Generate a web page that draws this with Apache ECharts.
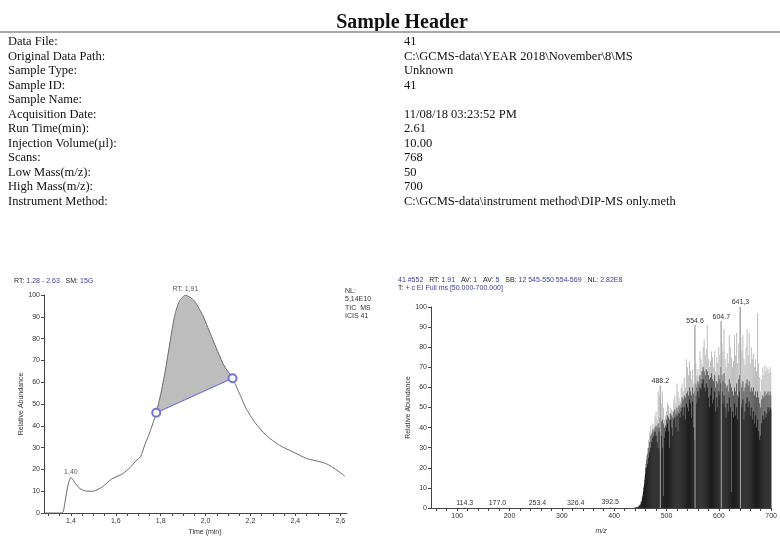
<!DOCTYPE html>
<html>
<head>
<meta charset="utf-8">
<script src="https://cdn.jsdelivr.net/npm/echarts@6/dist/echarts.min.js"></script>
<style>
html,body{margin:0;padding:0;background:#fff;}
#c{width:780px;height:536px;}
</style>
</head>
<body>
<div id="c"></div>
<script>
// ---------- header data ----------
var headerTitle = 'Sample Header';
var headerLabels = ['Data File:', 'Original Data Path:', 'Sample Type:', 'Sample ID:', 'Sample Name:', 'Acquisition Date:', 'Run Time(min):', 'Injection Volume(\u00b5l):', 'Scans:', 'Low Mass(m/z):', 'High Mass(m/z):', 'Instrument Method:'];
var headerValues = ['41', 'C:\\GCMS-data\\YEAR 2018\\November\\8\\MS', 'Unknown', '41', '', '11/08/18 03:23:52 PM', '2.61', '10.00', '768', '50', '700', 'C:\\GCMS-data\\instrument method\\DIP-MS only.meth'];

// ---------- chromatogram (TIC) ----------
var chromTime  = [1.28,1.30,1.33,1.355,1.365,1.37,1.38,1.39,1.40,1.42,1.44,1.47,1.50,1.54,1.58,1.63,1.665,1.69,1.71,1.73,1.755,1.78,1.80,1.82,1.84,1.86,1.88,1.91,1.95,1.99,2.03,2.08,2.12,2.15,2.18,2.22,2.27,2.33,2.39,2.45,2.51,2.54,2.58,2.62];
var chromAbund = [0,0,0,0,0.5,2.7,9,14,16.3,13.5,11.2,10,10,12,15.5,18,21,24,25.8,31.5,38,46,54.5,65,77.5,89.5,96.5,100,97.3,90,80,68,61.8,55,48,41.5,35.6,31,28,25,23.5,22.5,20,17];
var baselineTime  = [1.78, 2.12];
var baselineAbund = [46, 61.8];
var chromPeakTime  = [1.40, 1.91];
var chromPeakAbund = [16.3, 100];
var chromPeakText  = ['1,40', 'RT: 1,91'];
var chromXLabels = [1.4,1.6,1.8,2.0,2.2,2.4,2.6];
var chromXTicks  = [1.30,1.35,1.40,1.45,1.50,1.55,1.60,1.65,1.70,1.75,1.80,1.85,1.90,1.95,2.00,2.05,2.10,2.15,2.20,2.25,2.30,2.35,2.40,2.45,2.50,2.55,2.60];

// ---------- mass spectrum ----------
var msMz = [440,442,444,446,448,450,452,454,456,458,460,462,464,466,468,470,472,474,476,478,480,482,484,486,488,490,492,494,496,498,500,502,504,506,508,510,512,514,516,518,520,522,524,526,528,530,532,534,536,538,540,542,544,546,548,550,552,554,556,558,560,562,564,566,568,570,572,574,576,578,580,582,584,586,588,590,592,594,596,598,600,602,604,606,608,610,612,614,616,618,620,622,624,626,628,630,632,634,636,638,640,642,644,646,648,650,652,654,656,658,660,662,664,666,668,670,672,674,676,678,680,682,684,686,688,690,692,694,696,698,700];
var msLight = [0.3,0.4,0.6,1,1.5,2.5,4,7,11,16,22,26,30,34,38,41,38,42,40,46,48,44,58,56,61,52,58,50,44,46,48,52,51,47,50,49,48,54,56,52,62,58,55,53,60,62,58,65,60,74,70,66,73,68,64,69,62,91,72,66,69,65,78,74,71,80,84,76,79,91,74,70,73,78,75,70,78,68,75,72,80,76,93,82,78,89,74,70,77,72,86,80,75,70,73,86,76,87,72,82,100,85,78,86,74,71,80,89,76,87,72,80,74,77,70,74,68,97,72,65,58,64,70,66,71,68,70,69,67,70,68];
var msMid = [0.2,0.3,0.4,0.8,1.2,2,3.5,6,10,14,20,24,27,30,33,36,37,39,38,40,41,40,42,40,45,43,44,42,40,41,44,46,45,44,47,46,45,48,49,47,50,48,51,50,52,55,54,56,55,57,58,56,60,58,56,60,57,58,62,60,63,62,66,64,68,70,68,66,69,68,66,64,65,67,64,63,66,60,63,62,66,64,70,66,63,67,62,60,61,58,64,62,60,58,56,60,58,62,56,64,66,62,60,63,58,60,62,64,61,63,58,60,58,60,56,58,55,58,55,52,50,54,56,55,58,56,57,58,56,58,56];
var msDark = [0.1,0.2,0.3,0.5,1,1.5,3,5,8,12,17,20,22,25,28,30,33,35,36,38,36,33,30,38,28,36,30,6,35,38,40,42,38,30,44,40,36,44,45,40,46,38,47,45,48,50,46,50,44,52,50,48,54,52,45,53,40,34,56,52,58,55,60,59,62,64,60,58,62,60,55,50,56,60,52,54,58,48,55,50,58,56,62,58,52,56,50,45,52,48,55,50,8,48,45,52,46,50,44,55,58,52,50,54,44,48,52,55,50,53,46,50,44,48,42,46,40,44,38,34,36,42,46,44,48,45,47,50,48,50,49];
var msPeakMz   = [114.3, 177.0, 253.4, 326.4, 392.5, 488.2, 554.6, 604.7, 641.3];
var msPeakAbund= [0.4, 0.4, 0.3, 0.3, 0.5, 61, 91, 93, 100];
var msPeakText = ['114.3', '177.0', '253.4', '326.4', '392.5', '488.2', '554.6', '604.7', '641,3'];
var msXLabels = [100,200,300,400,500,600,700];
var msXTicks  = [60,80,100,120,140,160,180,200,220,240,260,280,300,320,340,360,380,400,420,440,460,480,500,520,540,560,580,600,620,640,660,680,700];

// ---------- build ----------
function zip(a, b) { var o = []; for (var i = 0; i < a.length; i++) o.push([a[i], b[i]]); return o; }
var chromData = zip(chromTime, chromAbund);
var shadePts = chromData.filter(function (p) { return p[0] >= baselineTime[0] && p[0] <= baselineTime[1]; });

var SANS = '"Liberation Sans", Arial, sans-serif';
var SERIF = '"Liberation Serif", "Times New Roman", serif';
var AX = '#333';
var BLUE = '#3b3b9e';

var graphics = [];
graphics.push({ type: 'text', style: { x: 402, y: 23, text: headerTitle, font: 'bold 20px ' + SERIF, fill: '#111', textAlign: 'center', textVerticalAlign: 'middle' } });
graphics.push({ type: 'line', shape: { x1: 0, y1: 32, x2: 780, y2: 32 }, style: { stroke: '#a8a8a8', lineWidth: 2 } });
for (var i = 0; i < headerLabels.length; i++) {
  var yy = 42 + i * 14.5;
  graphics.push({ type: 'text', style: { x: 8, y: yy, text: headerLabels[i], font: '12.5px ' + SERIF, fill: '#111', textVerticalAlign: 'middle' } });
  graphics.push({ type: 'text', style: { x: 404, y: yy, text: headerValues[i], font: '12.5px ' + SERIF, fill: '#111', textVerticalAlign: 'middle' } });
}
function rt(x, y, parts) {
  graphics.push({ type: 'text', style: { x: x, y: y, text: parts.map(function (p) { return '{' + p[1] + '|' + p[0] + '}'; }).join(''),
    textVerticalAlign: 'middle',
    rich: { k: { fill: '#222', font: '7px ' + SANS }, v: { fill: BLUE, font: '7px ' + SANS } } } });
}
rt(14, 281, [['RT: ', 'k'], ['1.28 - 2.63', 'v'], ['   SM: ', 'k'], ['15G', 'v']]);
rt(398, 280, [['41 #552', 'v'], ['   RT: ', 'k'], ['1.91', 'v'], ['   AV: ', 'k'], ['1', 'v'], ['   AV: ', 'k'], ['5', 'v'], ['   SB: ', 'k'], ['12 545-550 554-569', 'v'], ['   NL: ', 'k'], ['2.82E8', 'v']]);
rt(398, 288.5, [['T: ', 'k'], ['+ c EI Full ms [50.000-700.000]', 'v']]);
var nl = ['NL:', '5,14E10', 'TIC  MS', 'ICIS 41'];
var nlY = [291, 299, 308, 316];
for (var j = 0; j < nl.length; j++) {
  graphics.push({ type: 'text', style: { x: 345, y: nlY[j], text: nl[j], font: '7px ' + SANS, fill: '#333', textVerticalAlign: 'middle' } });
}
graphics.push({ type: 'text', style: { x: 205, y: 532, text: 'Time (min)', font: '7px ' + SANS, fill: AX, textAlign: 'center', textVerticalAlign: 'middle' } });

var axisLineStyle = { color: '#444', width: 1 };

var option = {
  animation: false,
  backgroundColor: '#fff',
  graphic: graphics,
  grid: [
    { left: 44, top: 295, width: 303, height: 218 },
    { left: 431, top: 307, width: 348, height: 207 }
  ],
  xAxis: [
    { gridIndex: 0, type: 'value', min: 1.28, max: 2.63,
      axisLine: { lineStyle: axisLineStyle }, splitLine: { show: false },
      axisTick: { length: 3, customValues: chromXTicks, lineStyle: { color: '#444' } },
      axisLabel: { customValues: chromXLabels, fontSize: 7, color: AX, margin: 5, fontFamily: SANS,
        formatter: function (v) { return v.toFixed(1).replace('.', ','); } } },
    { gridIndex: 1, type: 'value', min: 50, max: 700,
      name: 'm/z', nameLocation: 'middle', nameGap: 20, nameTextStyle: { fontSize: 7, color: AX, fontFamily: SANS, fontStyle: 'italic' },
      axisLine: { lineStyle: axisLineStyle }, splitLine: { show: false },
      axisTick: { length: 3, customValues: msXTicks, lineStyle: { color: '#444' } },
      axisLabel: { customValues: msXLabels, fontSize: 7, color: AX, margin: 5, fontFamily: SANS } }
  ],
  yAxis: [
    { gridIndex: 0, type: 'value', min: 0, max: 100, interval: 10,
      name: 'Relative Abundance', nameLocation: 'middle', nameGap: 19, nameTextStyle: { fontSize: 7, color: AX, fontFamily: SANS },
      axisLine: { show: true, lineStyle: axisLineStyle }, splitLine: { show: false },
      axisTick: { show: true, length: 3, lineStyle: { color: '#444' } },
      axisLabel: { fontSize: 7, color: AX, margin: 4, fontFamily: SANS } },
    { gridIndex: 1, type: 'value', min: 0, max: 100, interval: 10,
      name: 'Relative Abundance', nameLocation: 'middle', nameGap: 19, nameTextStyle: { fontSize: 7, color: AX, fontFamily: SANS },
      axisLine: { show: true, lineStyle: axisLineStyle }, splitLine: { show: false },
      axisTick: { show: true, length: 3, lineStyle: { color: '#444' } },
      axisLabel: { fontSize: 7, color: AX, margin: 4, fontFamily: SANS } }
  ],
  series: [
    { type: 'custom', xAxisIndex: 0, yAxisIndex: 0, silent: true, z: 1,
      data: [[shadePts[0][0], shadePts[0][1]]],
      renderItem: function (params, api) {
        var pts = shadePts.map(function (p) { return api.coord(p); });
        return { type: 'polygon', shape: { points: pts }, style: { fill: '#bdbdbd', stroke: 'none' } };
      } },
    { type: 'line', xAxisIndex: 0, yAxisIndex: 0, data: chromData, showSymbol: false, symbol: 'none', z: 3,
      lineStyle: { color: '#6a6a6a', width: 1 }, smooth: 0.2 },
    { type: 'line', xAxisIndex: 0, yAxisIndex: 0, data: zip(baselineTime, baselineAbund), z: 4,
      symbol: 'emptyCircle', symbolSize: 8, showSymbol: true,
      itemStyle: { color: '#7474d6', borderWidth: 1 }, lineStyle: { color: '#7474d6', width: 1.2 } },
    { type: 'scatter', xAxisIndex: 0, yAxisIndex: 0, symbolSize: 0, z: 5,
      data: chromPeakTime.map(function (t, k) { return [t, chromPeakAbund[k], chromPeakText[k]]; }),
      label: { show: true, position: 'top', distance: 2, fontSize: 7, color: '#333', fontFamily: SANS,
        formatter: function (p) { return p.data[2]; } } },

    { type: 'bar', xAxisIndex: 1, yAxisIndex: 1, data: zip(msMz, msLight), barWidth: 1, barGap: '-100%',
      itemStyle: { color: '#bdbdbd' } },
    { type: 'bar', xAxisIndex: 1, yAxisIndex: 1, data: zip(msMz, msMid), barWidth: 1, barGap: '-100%',
      itemStyle: { color: '#5a5a5a' } },
    { type: 'bar', xAxisIndex: 1, yAxisIndex: 1, data: zip(msMz, msDark), barWidth: 1, barGap: '-100%',
      itemStyle: { color: '#1c1c1c' } },
    { type: 'bar', xAxisIndex: 1, yAxisIndex: 1, barWidth: 1, barGap: '-100%',
      data: msPeakMz.map(function (m, k) { return [m, msPeakAbund[k], msPeakText[k]]; }),
      itemStyle: { color: '#a8a8a8' },
      label: { show: true, position: 'top', distance: 1, fontSize: 7, color: '#333', fontFamily: SANS,
        formatter: function (p) { return p.data[2]; } } }
  ]
};
var chart = echarts.init(document.getElementById('c'), null, { renderer: 'canvas' });
chart.setOption(option);
</script>
</body>
</html>
